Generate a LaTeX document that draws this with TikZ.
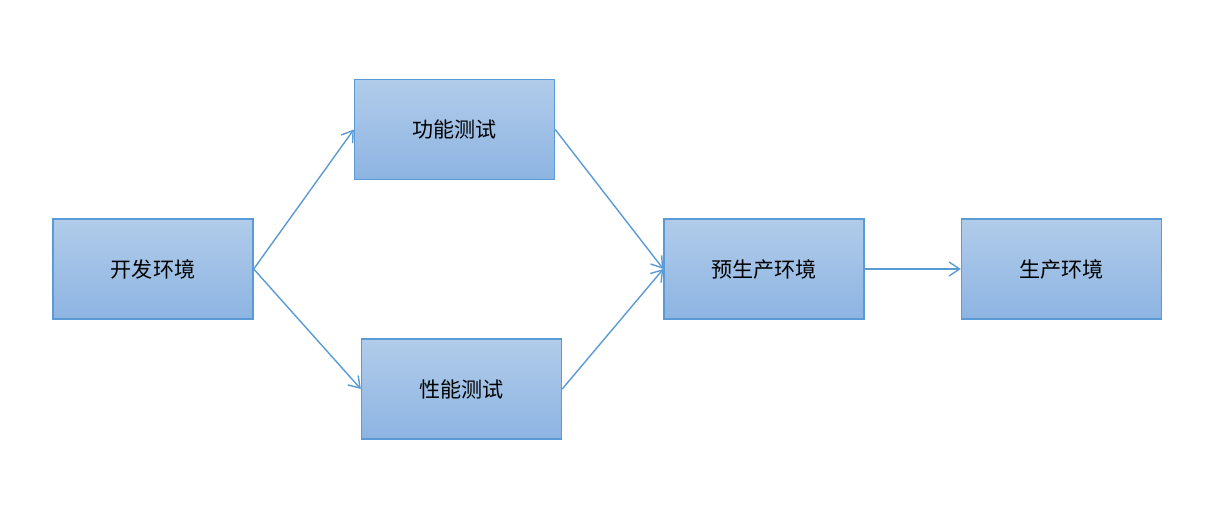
\documentclass[tikz,border=0pt]{standalone}
\usepackage{fontspec}
\newfontfamily\cjk{Noto Sans CJK SC}
\usetikzlibrary{arrows.meta}
\definecolor{bordc}{HTML}{5B9BD5}
\definecolor{topc}{HTML}{B1CCEA}
\definecolor{botc}{HTML}{8DB4E2}
\begin{document}
\begin{tikzpicture}[x=0.02cm,y=-0.02cm,
  box/.style={draw=bordc,line width=0.8pt,top color=topc,bottom color=botc,minimum width=4cm,minimum height=2cm,inner sep=0pt,font=\cjk\fontsize{12}{14}\selectfont},
  conn/.style={draw=bordc,line width=0.8pt,-{Straight Barb[length=6pt,width=8pt]}}]
\useasboundingbox (0,0) rectangle (1216,515);
\node[box] (dev) at (153,269) {开发环境};
\node[box] (func) at (454.5,129.5) {功能测试};
\node[box] (perf) at (461.5,389) {性能测试};
\node[box] (pre) at (764,269) {预生产环境};
\node[box] (prod) at (1061.5,269) {生产环境};
\draw[conn] (dev.east) -- (func.west);
\draw[conn] (dev.east) -- (perf.west);
\draw[conn] (func.east) -- (pre.west);
\draw[conn] (perf.east) -- (pre.west);
\draw[conn] (pre.east) -- (prod.west);
\end{tikzpicture}
\end{document}
